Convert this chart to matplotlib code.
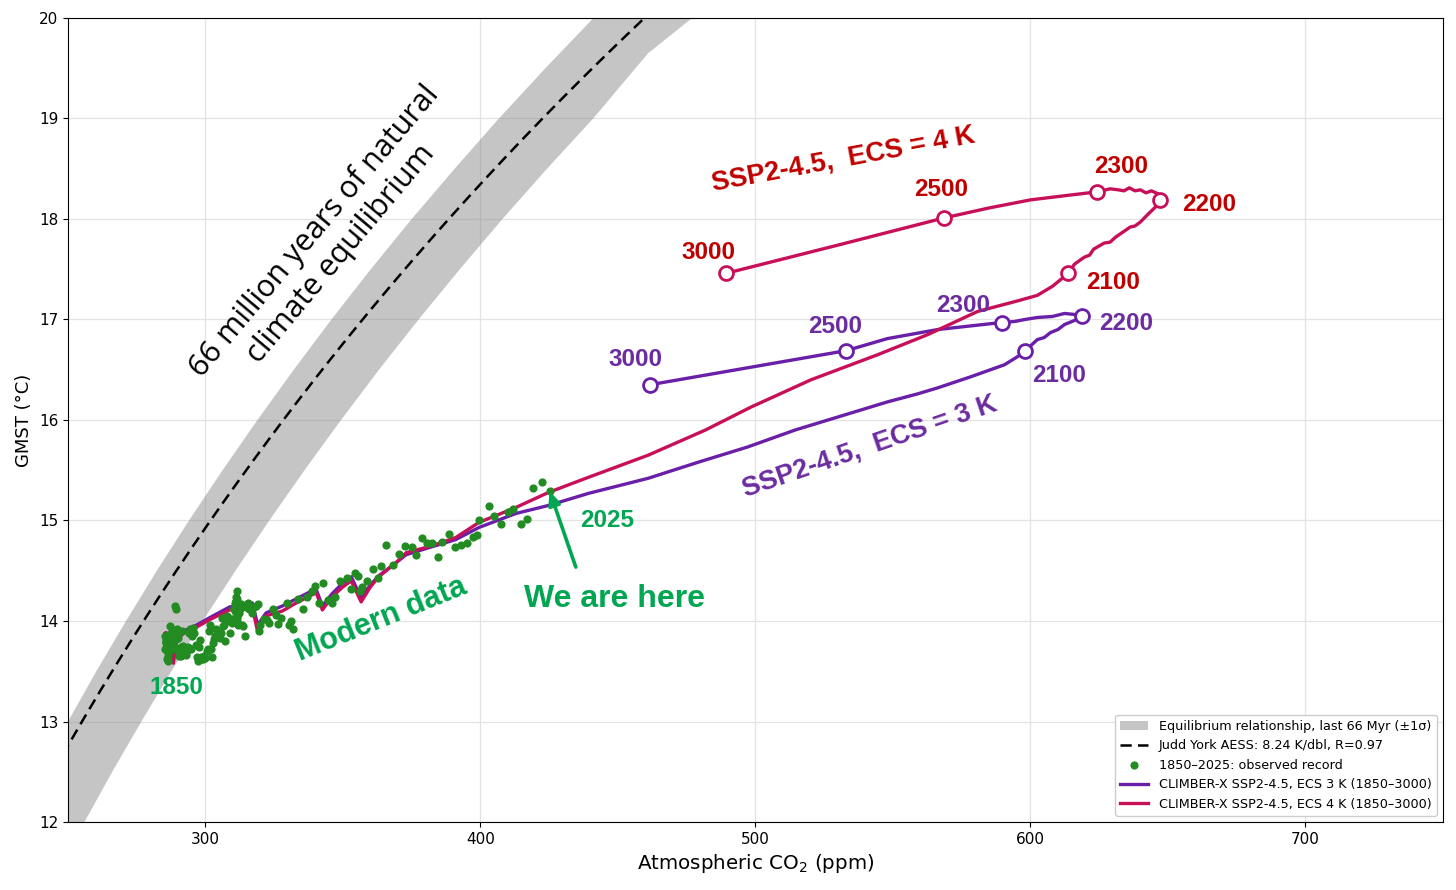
import matplotlib
matplotlib.use("Agg")
import matplotlib.pyplot as plt
import numpy as np

# --- equilibrium band (last 66 Myr, +-1 sigma), edges ---
band_up_co2 = [245.0, 250.0, 260.3, 271.1, 282.3, 294.0, 306.2, 318.9, 332.1,
               345.8, 360.1, 375.0, 390.6, 406.7, 423.6, 441.1, 459.4, 478.4]
band_up_t = [12.75, 13.00, 13.50, 14.00, 14.50, 15.00, 15.50, 16.00, 16.50,
             17.00, 17.50, 18.00, 18.50, 19.00, 19.50, 20.00, 20.50, 21.00]
band_lo_co2 = [245.0, 256.0, 266.1, 276.7, 287.6, 299.0, 310.9, 323.2, 336.0,
               349.3, 363.1, 377.5, 392.5, 408.0, 424.2, 441.0, 461.0, 477.0, 500.0]
band_lo_t = [11.43, 12.00, 12.50, 13.00, 13.50, 14.00, 14.50, 15.00, 15.50,
             16.00, 16.50, 17.00, 17.50, 18.00, 18.50, 19.00, 19.65, 20.00, 20.50]

# Judd York AESS fit: 8.24 K per doubling
jy_sens = 8.24
jy_ref_co2 = 250.0
jy_ref_t = 12.76

# --- observed record 1850-2025 ---
obs_co2 = [
    285.2, 285.4, 285.5, 285.6, 285.7, 285.8, 285.9, 286.0, 286.1, 286.2,
    286.3, 286.4, 286.5, 286.6, 286.7, 286.8, 286.9, 287.0, 287.2, 287.4,
    287.6, 287.8, 288.0, 288.2, 288.4, 288.6, 288.8, 289.0, 289.2, 289.4,
    289.6, 289.8, 290.0, 290.2, 290.4, 290.6, 290.8, 291.0, 291.2, 291.4,
    291.6, 292.0, 292.4, 292.8, 293.2, 293.6, 294.0, 294.4, 294.8, 295.2,
    295.6, 296.0, 296.4, 296.8, 297.2, 297.6, 298.0, 298.4, 298.8, 299.2,
    299.6, 300.0, 300.4, 300.8, 301.2, 301.6, 302.0, 302.4, 302.8, 303.2,
    303.6, 304.0, 304.4, 304.8, 305.2, 305.6, 306.0, 306.4, 306.8, 307.2,
    307.6, 308.0, 308.4, 308.8, 309.2, 309.6, 310.0, 310.2, 310.4, 310.6,
    310.8, 311.0, 311.1, 311.2, 311.3, 311.3, 311.3, 311.4, 311.5, 311.6,
    311.8, 312.1, 312.4, 312.8, 313.2, 313.7, 314.2, 314.8, 315.3, 316.0,
    316.9, 317.6, 318.4, 319.0, 319.6, 320.0, 321.4, 322.2, 323.0, 324.6,
    325.7, 326.3, 327.5, 329.7, 330.2, 331.1, 332.0, 333.8, 335.4, 336.8,
    338.7, 339.9, 341.1, 342.8, 344.4, 345.9, 347.2, 349.0, 351.4, 352.9,
    354.2, 355.5, 356.3, 357.0, 358.8, 360.8, 362.6, 363.7, 365.7, 368.3,
    370.4, 372.6, 375.0, 376.6, 378.8, 380.6, 382.4, 384.6, 386.0, 388.6,
    390.8, 393.0, 395.0, 397.3, 398.6, 399.4, 403.0, 405.0, 407.4, 410.0,
    412.0, 414.7, 416.8, 419.2, 422.3, 425.2,
]
obs_t = [
    13.85, 13.72, 13.80, 13.78, 13.82, 13.79, 13.70, 13.62, 13.78, 13.86,
    13.77, 13.65, 13.60, 13.82, 13.70, 13.86, 13.84, 13.80, 13.95, 13.83,
    13.88, 13.84, 13.86, 13.78, 13.83, 13.72, 13.82, 14.15, 14.12, 13.82,
    13.88, 13.92, 13.83, 13.72, 13.65, 13.68, 13.72, 13.65, 13.74, 13.90,
    13.70, 13.75, 13.68, 13.66, 13.70, 13.74, 13.88, 13.92, 13.72, 13.85,
    13.93, 13.88, 13.76, 13.64, 13.60, 13.74, 13.81, 13.64, 13.62, 13.62,
    13.65, 13.63, 13.70, 13.72, 13.90, 13.96, 13.72, 13.64, 13.78, 13.82,
    13.85, 13.92, 13.85, 13.84, 13.83, 13.88, 14.03, 13.95, 13.96, 13.80,
    14.00, 14.05, 14.02, 13.88, 14.02, 13.98, 14.02, 14.12, 14.13, 14.10,
    14.18, 14.24, 14.20, 14.20, 14.30, 14.22, 14.08, 14.05, 14.03, 14.00,
    13.96, 14.08, 14.12, 14.17, 13.96, 13.95, 13.85, 14.14, 14.18, 14.12,
    14.08, 14.14, 14.15, 14.17, 13.90, 13.96, 14.02, 14.01, 13.98, 14.12,
    14.06, 13.97, 14.03, 14.18, 13.96, 14.00, 13.92, 14.22, 14.12, 14.24,
    14.30, 14.35, 14.18, 14.38, 14.21, 14.18, 14.24, 14.40, 14.43, 14.32,
    14.48, 14.45, 14.30, 14.34, 14.40, 14.52, 14.43, 14.55, 14.76, 14.56,
    14.67, 14.75, 14.74, 14.66, 14.83, 14.78, 14.78, 14.64, 14.79, 14.87,
    14.74, 14.76, 14.78, 14.84, 14.86, 15.00, 15.14, 15.04, 14.97, 15.08,
    15.11, 14.97, 15.01, 15.32, 15.38, 15.29,
]

# --- CLIMBER-X SSP2-4.5, ECS 4 K (1850-3000) ---
ecs4_co2 = [
    285.5, 287.0, 288.3, 289.5, 292.0, 296.8, 302.0, 308.8, 313.0, 317.0,
    319.0, 322.0, 328.0, 333.0, 338.0, 340.3, 342.5, 346.0, 350.0, 353.0,
    356.6, 360.0, 363.0, 369.3, 373.0, 381.3, 391.0, 399.4, 412.9, 424.8,
    439.3, 461.0, 481.8, 498.5, 520.2, 544.5, 562.7, 580.8, 596.0, 602.5,
    608.0, 613.8, 616.0, 619.6, 621.5, 623.0, 626.8, 629.0, 631.0, 636.3,
    638.0, 640.0, 642.5, 645.5, 647.2, 646.5, 644.0, 642.0, 640.0, 638.0,
    636.0, 634.0, 632.0, 629.0, 624.3, 612.0, 600.0, 585.0, 568.5, 530.0,
    489.4,
]
ecs4_t = [
    13.88, 13.80, 13.58, 13.80, 13.88, 13.94, 14.02, 14.11, 14.12, 14.14,
    13.89, 14.05, 14.10, 14.18, 14.25, 14.28, 14.11, 14.24, 14.34, 14.40,
    14.19, 14.34, 14.44, 14.58, 14.68, 14.74, 14.83, 14.98, 15.13, 15.28,
    15.43, 15.65, 15.90, 16.13, 16.40, 16.65, 16.85, 17.08, 17.19, 17.24,
    17.33, 17.46, 17.55, 17.62, 17.64, 17.70, 17.76, 17.77, 17.82, 17.92,
    17.93, 17.97, 18.04, 18.12, 18.19, 18.25, 18.28, 18.26, 18.29, 18.28,
    18.31, 18.28, 18.29, 18.30, 18.27, 18.23, 18.19, 18.11, 18.01, 17.74,
    17.46,
]
ecs4_mark_co2 = [613.8, 647.2, 624.3, 568.5, 489.4]
ecs4_mark_t = [17.46, 18.19, 18.27, 18.01, 17.46]
ecs4_years = ["2100", "2200", "2300", "2500", "3000"]

# --- CLIMBER-X SSP2-4.5, ECS 3 K (1850-3000) ---
ecs3_co2 = [
    285.5, 287.0, 288.3, 289.5, 292.0, 296.8, 302.0, 308.8, 313.0, 317.0,
    319.0, 322.0, 328.0, 333.0, 338.0, 340.3, 342.5, 346.0, 350.0, 353.0,
    356.6, 360.0, 363.0, 369.3, 373.0, 381.3, 391.0, 399.4, 412.9, 424.8,
    439.3, 461.0, 479.2, 497.0, 514.4, 533.6, 548.0, 559.0, 566.3, 578.3,
    590.6, 595.3, 598.2, 602.5, 605.0, 607.3, 610.0, 612.4, 616.0, 618.9,
    616.0, 612.4, 608.0, 602.5, 598.0, 594.2, 589.5, 566.3, 548.0, 533.0,
    461.5,
]
ecs3_t = [
    13.88, 13.82, 13.62, 13.82, 13.90, 13.96, 14.04, 14.14, 14.16, 14.18,
    13.96, 14.08, 14.15, 14.22, 14.29, 14.31, 14.15, 14.27, 14.38, 14.44,
    14.23, 14.36, 14.45, 14.58, 14.66, 14.73, 14.81, 14.93, 15.07, 15.15,
    15.27, 15.42, 15.58, 15.73, 15.90, 16.06, 16.18, 16.26, 16.32, 16.43,
    16.55, 16.63, 16.69, 16.80, 16.82, 16.87, 16.90, 16.95, 16.99, 17.03,
    17.05, 17.06, 17.03, 17.02, 17.00, 16.98, 16.97, 16.90, 16.81, 16.69,
    16.35,
]
ecs3_mark_co2 = [598.2, 618.9, 589.5, 533.0, 461.5]
ecs3_mark_t = [16.69, 17.03, 16.97, 16.69, 16.35]
ecs3_years = ["2100", "2200", "2300", "2500", "3000"]

# label positions (data coords) for the year tags
ecs4_lab_xy = [(630.1, 17.37), (665.0, 18.14), (633.0, 18.52), (567.4, 18.29), (482.9, 17.67)]
ecs3_lab_xy = [(610.5, 16.44), (634.8, 16.96), (575.7, 17.14), (528.9, 16.93), (456.4, 16.60)]

c_ecs4 = "#c8105a"
c_ecs4_txt = "#c00000"
c_ecs3 = "#6a1fa8"
c_ecs3_txt = "#6a2ca0"
c_green = "#00a651"
c_obs = "#228b22"
bold_font = ["Liberation Sans", "DejaVu Sans"]

fig = plt.figure(figsize=(14.56, 8.9), dpi=100)
ax = fig.add_axes([0.0467, 0.0764, 0.9443, 0.9034])

ax.grid(True, color="#e3e3e3", linewidth=0.9, zorder=0)
ax.set_axisbelow(True)

# band polygon: upper edge left->right, then lower edge back
band_x = band_up_co2 + band_lo_co2[::-1]
band_y = band_up_t + band_lo_t[::-1]
band = ax.fill(band_x, band_y, color="0.5", alpha=0.45, linewidth=0, zorder=1,
               label="Equilibrium relationship, last 66 Myr (\u00b11\u03c3)")[0]

jy_co2 = np.linspace(245, 520, 200)
jy_t = jy_ref_t + jy_sens * np.log2(jy_co2 / jy_ref_co2)
jy_line, = ax.plot(jy_co2, jy_t, color="black", linestyle=(0, (4.5, 2.5)),
                   linewidth=1.8, zorder=2,
                   label="Judd York AESS: 8.24 K/dbl, R=0.97")

l3, = ax.plot(ecs3_co2, ecs3_t, color=c_ecs3, linewidth=2.4, zorder=3,
              label="CLIMBER-X SSP2-4.5, ECS 3 K (1850\u20133000)")
l4, = ax.plot(ecs4_co2, ecs4_t, color=c_ecs4, linewidth=2.4, zorder=4,
              label="CLIMBER-X SSP2-4.5, ECS 4 K (1850\u20133000)")

obs = ax.scatter(obs_co2, obs_t, s=24, color=c_obs, zorder=5,
                 label="1850\u20132025: observed record")

ax.plot(ecs3_mark_co2, ecs3_mark_t, linestyle="none", marker="o", markersize=10,
        markerfacecolor="white", markeredgecolor=c_ecs3, markeredgewidth=2, zorder=6)
ax.plot(ecs4_mark_co2, ecs4_mark_t, linestyle="none", marker="o", markersize=10,
        markerfacecolor="white", markeredgecolor=c_ecs4, markeredgewidth=2, zorder=6)

for yr, (x, y) in zip(ecs4_years, ecs4_lab_xy):
    ax.text(x, y, yr, color=c_ecs4_txt, fontsize=17.5, fontweight="bold",
            family=bold_font, ha="center", va="center", zorder=7)
for yr, (x, y) in zip(ecs3_years, ecs3_lab_xy):
    ax.text(x, y, yr, color=c_ecs3_txt, fontsize=17.5, fontweight="bold",
            family=bold_font, ha="center", va="center", zorder=7)

ax.text(531.8, 18.59, "SSP2-4.5,  ECS = 4 K", color=c_ecs4_txt, fontsize=19.5,
        fontweight="bold", family=bold_font, rotation=10.5, ha="center", va="center")
ax.text(541.5, 15.74, "SSP2-4.5,  ECS = 3 K", color=c_ecs3_txt, fontsize=19.5,
        fontweight="bold", family=bold_font, rotation=19, ha="center", va="center")

ax.text(344.3, 17.77, "66 million years of natural\nclimate equilibrium", color="black",
        fontsize=22, family=["Open Sans", "DejaVu Sans"], rotation=50,
        ha="center", va="center", linespacing=1.2)

ax.text(363.9, 14.01, "Modern data", color=c_green, fontsize=22, fontweight="bold",
        family=bold_font, rotation=22, ha="center", va="center")
ax.text(448.8, 14.22, "We are here", color=c_green, fontsize=23, fontweight="bold",
        family=bold_font, ha="center", va="center")
ax.text(446.2, 15.0, "2025", color=c_green, fontsize=17.5, fontweight="bold",
        family=bold_font, ha="center", va="center")
ax.text(289.5, 13.34, "1850", color=c_green, fontsize=17.5, fontweight="bold",
        family=bold_font, ha="center", va="center")
ax.annotate("", xy=(424.8, 15.32), xytext=(435.0, 14.51),
            arrowprops=dict(arrowstyle="-|>,head_length=0.8,head_width=0.35",
                            color=c_green, linewidth=2.6), zorder=8)

ax.set_xlim(250, 750)
ax.set_ylim(12, 20)
ax.set_xticks([300, 400, 500, 600, 700])
ax.set_yticks(range(12, 21))
ax.tick_params(labelsize=11)
ax.set_xlabel("Atmospheric CO$_2$ (ppm)", fontsize=14.3)
ax.set_ylabel("GMST (\u00b0C)", fontsize=13)

ax.legend(handles=[band, jy_line, obs, l3, l4], loc="lower right", fontsize=9.2,
          framealpha=1, edgecolor="#cccccc", handlelength=2.2)

fig.savefig("out.png", dpi=100)
